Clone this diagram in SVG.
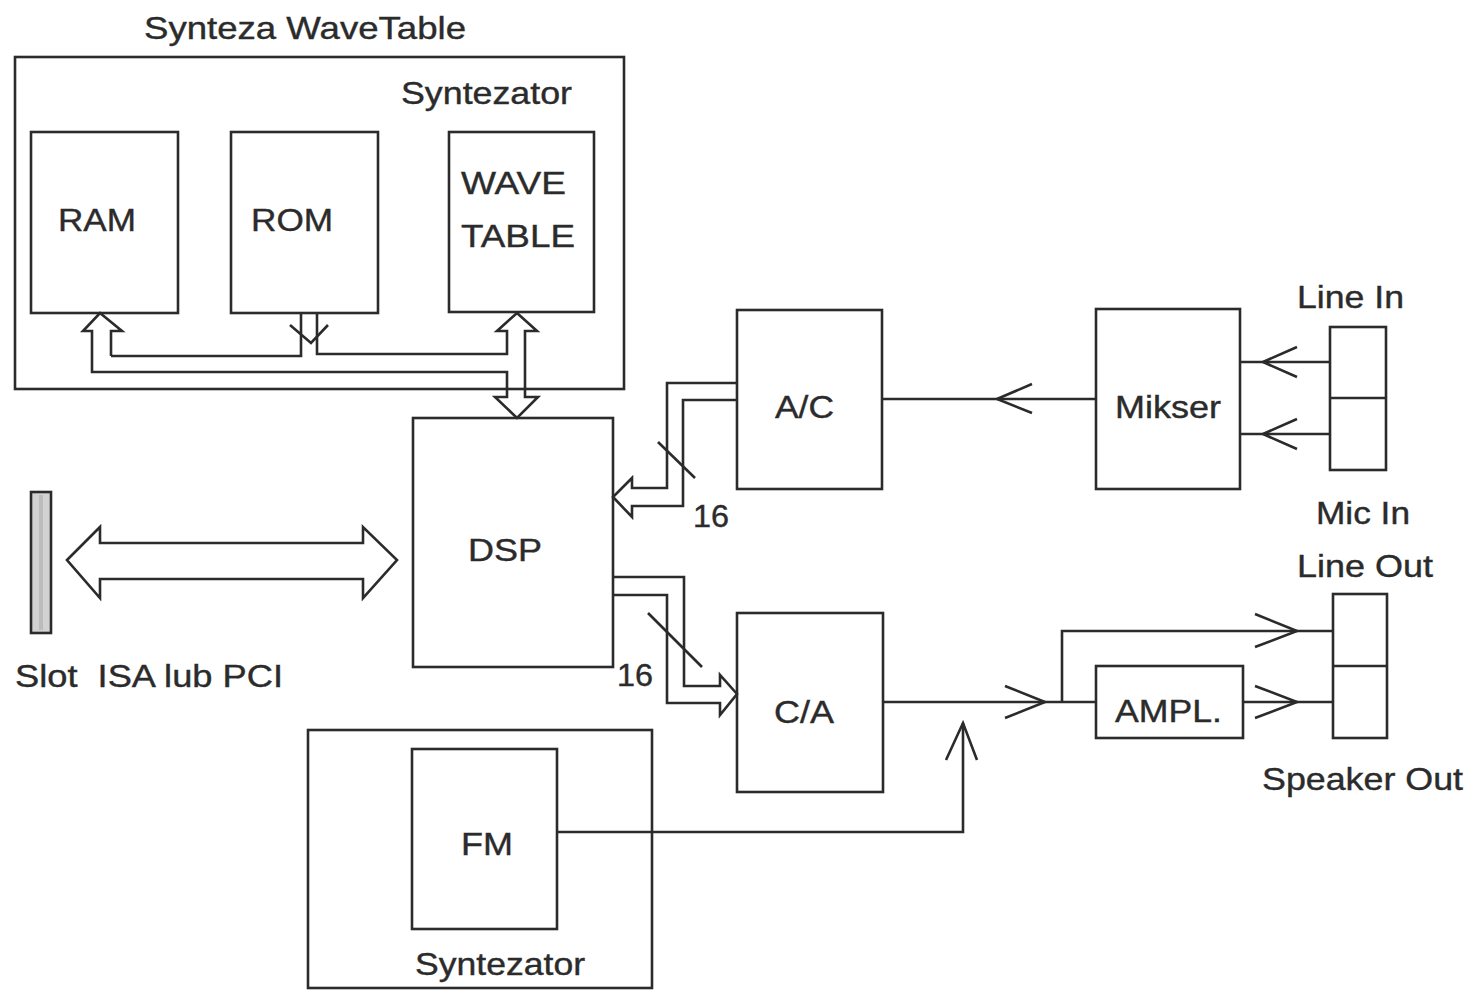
<svg xmlns="http://www.w3.org/2000/svg" width="1472" height="990" viewBox="0 0 1472 990">
<style>
.b{fill:none;stroke:#2b2b2b;stroke-width:2.6;stroke-linejoin:miter}
.t{font-family:"Liberation Sans",Arial,Helvetica,sans-serif;font-size:32px;fill:#2b2b2b;stroke:#2b2b2b;stroke-width:0.4}
</style>
<rect width="1472" height="990" fill="#fff"/>
<g id="wavetable-group">
<rect class="b" x="15" y="57" width="609" height="332"/>
<text class="t" x="144" y="39" textLength="322" lengthAdjust="spacingAndGlyphs">Synteza WaveTable</text>
<text class="t" x="401" y="104" textLength="171" lengthAdjust="spacingAndGlyphs">Syntezator</text>
</g>
<g id="ram"><rect class="b" x="31" y="132" width="147" height="181"/><text class="t" x="58" y="231" textLength="78" lengthAdjust="spacingAndGlyphs">RAM</text></g>
<g id="rom"><rect class="b" x="231" y="132" width="147" height="181"/><text class="t" x="251" y="231" textLength="82" lengthAdjust="spacingAndGlyphs">ROM</text></g>
<g id="wavetable"><rect class="b" x="449" y="132" width="145" height="180"/><text class="t" x="461" y="194" textLength="105" lengthAdjust="spacingAndGlyphs">WAVE</text><text class="t" x="461" y="247" textLength="114" lengthAdjust="spacingAndGlyphs">TABLE</text></g>
<g id="dsp"><rect class="b" x="413" y="418" width="200" height="249"/><text class="t" x="468" y="561" textLength="74" lengthAdjust="spacingAndGlyphs">DSP</text></g>
<g id="slot"><rect x="31" y="492" width="20" height="141" fill="#d2d2d2" stroke="#2b2b2b" stroke-width="2.6"/><line x1="41" y1="495" x2="41" y2="630" stroke="#bcbcbc" stroke-width="4"/><text class="t" x="15" y="687" textLength="268" lengthAdjust="spacingAndGlyphs" xml:space="preserve">Slot  ISA lub PCI</text></g>
<g id="ac"><rect class="b" x="737" y="310" width="145" height="179"/><text class="t" x="775" y="418" textLength="59" lengthAdjust="spacingAndGlyphs">A/C</text></g>
<g id="ca"><rect class="b" x="737" y="613" width="146" height="179"/><text class="t" x="774" y="723" textLength="60" lengthAdjust="spacingAndGlyphs">C/A</text></g>
<g id="mikser"><rect class="b" x="1096" y="309" width="144" height="180"/><text class="t" x="1115" y="418" textLength="106" lengthAdjust="spacingAndGlyphs">Mikser</text></g>
<g id="ampl"><rect class="b" x="1096" y="666" width="147" height="72"/><text class="t" x="1115" y="722" textLength="107" lengthAdjust="spacingAndGlyphs">AMPL.</text></g>
<g id="in-jacks"><rect class="b" x="1330" y="327" width="56" height="143"/><line class="b" x1="1330" y1="398" x2="1386" y2="398"/><text class="t" x="1297" y="308" textLength="107" lengthAdjust="spacingAndGlyphs">Line In</text><text class="t" x="1316" y="524" textLength="94" lengthAdjust="spacingAndGlyphs">Mic In</text></g>
<g id="out-jacks"><rect class="b" x="1333" y="594" width="54" height="144"/><line class="b" x1="1333" y1="666" x2="1387" y2="666"/><text class="t" x="1297" y="577" textLength="136" lengthAdjust="spacingAndGlyphs">Line Out</text><text class="t" x="1262" y="790" textLength="201" lengthAdjust="spacingAndGlyphs">Speaker Out</text></g>
<g id="fm-group"><rect class="b" x="308" y="730" width="344" height="258"/><text class="t" x="415" y="975" textLength="170" lengthAdjust="spacingAndGlyphs">Syntezator</text></g>
<g id="fm"><rect class="b" x="412" y="749" width="145" height="180"/><text class="t" x="461" y="855" textLength="52" lengthAdjust="spacingAndGlyphs">FM</text></g>
<g id="connectors">
<path class="b" d="M111,356 V331 H122 L100,313 L83,331 H92 V372 H507 V397 H495 L517,418 L538,397 H525 V331 H537 L517,313 L497,331 H507 V354 H317 V313"/>
<path class="b" d="M301,313 V356 H111"/>
<path class="b" d="M290,325 L311,343 L328,325"/>
<path class="b" d="M67,560 L100,527 V543 H363 V527 L397,560 L363,598 V579 H100 V598 Z"/>
<path class="b" d="M737,383 H667 V488 H632 V478 L613,497 L632,517 V506 H683 V400 H737"/>
<line class="b" x1="658" y1="442" x2="695" y2="478"/>
<text class="t" x="693" y="527" textLength="36" lengthAdjust="spacingAndGlyphs">16</text>
<path class="b" d="M613,577 H684 V686 H720 V675 L737,694 L720,715 V703 H667 V595 H613"/>
<line class="b" x1="648" y1="613" x2="702" y2="667"/>
<text class="t" x="617" y="686" textLength="36" lengthAdjust="spacingAndGlyphs">16</text>
<line class="b" x1="882" y1="399" x2="1096" y2="399"/>
<path class="b" d="M1032,384 L997,399 L1032,413"/>
<line class="b" x1="1240" y1="362" x2="1330" y2="362"/>
<path class="b" d="M1297,347 L1263,362 L1297,377"/>
<line class="b" x1="1240" y1="434" x2="1330" y2="434"/>
<path class="b" d="M1297,419 L1263,434 L1297,449"/>
<line class="b" x1="883" y1="702" x2="1096" y2="702"/>
<path class="b" d="M1005,686 L1045,702 L1005,718"/>
<path class="b" d="M1062,702 V631 H1333"/>
<path class="b" d="M1255,614 L1297,631 L1255,647"/>
<line class="b" x1="1243" y1="702" x2="1333" y2="702"/>
<path class="b" d="M1255,686 L1297,702 L1255,718"/>
<path class="b" d="M557,832 H963 V723"/>
<path class="b" d="M946,760 L963,723 L977,760"/>
</g>
</svg>
